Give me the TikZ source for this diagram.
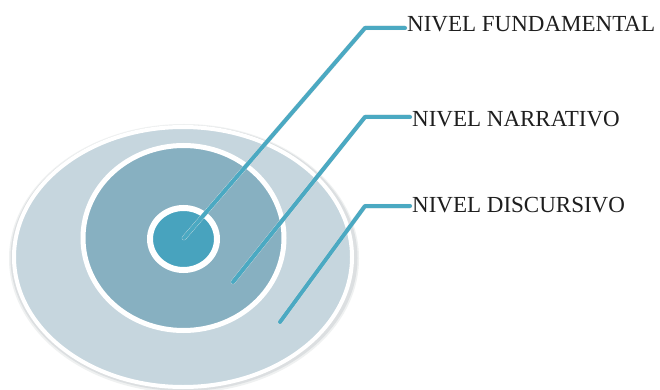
\documentclass[tikz,border=0pt]{standalone}
\usepackage{fontspec}
\setmainfont{Liberation Serif}
\usetikzlibrary{shapes.geometric}
\definecolor{ringOuter}{HTML}{C6D6DE}
\definecolor{ringMiddle}{HTML}{87B0C1}
\definecolor{ringInner}{HTML}{48A3BE}
\definecolor{leaderBlue}{HTML}{4BA9C2}
\definecolor{labelInk}{HTML}{1E1E1E}
\definecolor{rimShade}{HTML}{DCDFE1}
\tikzset{
  ring/.style={ellipse, draw=white, inner sep=0pt, outer sep=0pt},
  leader/.style={draw=leaderBlue, line width=4pt, line cap=round, line join=round},
  leadershade/.style={draw=black!9, line width=4.5pt, line cap=round, line join=round},
  levelname/.style={anchor=west, inner sep=2pt, text=labelInk, font=\fontsize{23}{26}\selectfont}
}
\begin{document}
\begin{tikzpicture}[x=1pt,y=-1pt]
\useasboundingbox (0,0) rectangle (660,390);
\fill[white] (0,0) rectangle (660,390);

% soft rim around the outer level
\fill[rimShade!45] (184,258.5) ellipse [x radius=175pt, y radius=134.5pt];
\fill[rimShade] (184,258) ellipse [x radius=173.5pt, y radius=133pt];

% concentric levels
\node[ring, fill=ringOuter, line width=4pt, minimum width=338pt, minimum height=260pt] (outer) at (183,257) {};
\node[ring, fill=ringMiddle, line width=5pt, minimum width=201pt, minimum height=185pt] (middle) at (183.5,238) {};
\node[ring, fill=ringInner, line width=6pt, minimum width=67pt, minimum height=62pt] (inner) at (183.5,239) {};

% labels
\node[levelname] (fund) at (405,24.5) {NIVEL FUNDAMENTAL};
\node[levelname] (narr) at (410,119) {NIVEL NARRATIVO};
\node[levelname] (disc) at (410,205) {NIVEL DISCURSIVO};

% leader lines
\coordinate (fs) at (184,238);
\coordinate (fe) at (365,28);
\coordinate (ns) at (233,282);
\coordinate (ne) at (365,117);
\coordinate (ds) at (280,322);
\coordinate (de) at (365,206);

\begin{scope}[shift={(1pt,-1.2pt)}]
\draw[leadershade] (fs) -- (fe) -- (fe -| fund.west);
\draw[leadershade] (ns) -- (ne) -- (ne -| narr.west);
\draw[leadershade] (ds) -- (de) -- (de -| disc.west);
\end{scope}
\draw[leader] (fs) -- (fe) -- (fe -| fund.west);
\draw[leader] (ns) -- (ne) -- (ne -| narr.west);
\draw[leader] (ds) -- (de) -- (de -| disc.west);
\end{tikzpicture}
\end{document}
